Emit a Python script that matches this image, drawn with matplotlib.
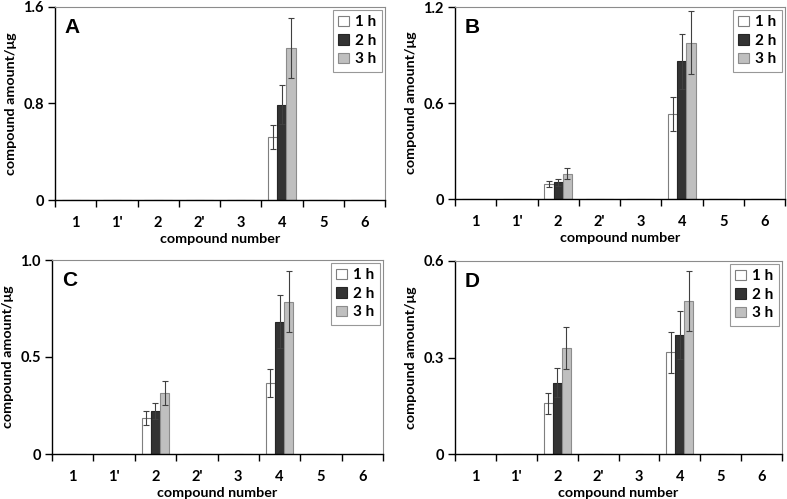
import matplotlib.pyplot as plt
import numpy as np

plt.rcParams['font.family'] = ['Lato', 'DejaVu Sans']
plt.rcParams['font.weight'] = 'bold'

# categories on the x axis
compounds = ["1", "1'", "2", "2'", "3", "4", "5", "6"]
hours = ["1 h", "2 h", "3 h"]

# panel A
a_1h = [0, 0, 0, 0, 0, 0.52, 0, 0]
a_2h = [0, 0, 0, 0, 0, 0.79, 0, 0]
a_3h = [0, 0, 0, 0, 0, 1.26, 0, 0]
a_err_1h = [0, 0, 0, 0, 0, 0.10, 0, 0]
a_err_2h = [0, 0, 0, 0, 0, 0.16, 0, 0]
a_err_3h = [0, 0, 0, 0, 0, 0.25, 0, 0]

# panel B
b_1h = [0, 0, 0.094, 0, 0, 0.53, 0, 0]
b_2h = [0, 0, 0.106, 0, 0, 0.86, 0, 0]
b_3h = [0, 0, 0.158, 0, 0, 0.977, 0, 0]
b_err_1h = [0, 0, 0.018, 0, 0, 0.105, 0, 0]
b_err_2h = [0, 0, 0.022, 0, 0, 0.17, 0, 0]
b_err_3h = [0, 0, 0.033, 0, 0, 0.195, 0, 0]

# panel C
c_1h = [0, 0, 0.187, 0, 0, 0.365, 0, 0]
c_2h = [0, 0, 0.22, 0, 0, 0.681, 0, 0]
c_3h = [0, 0, 0.314, 0, 0, 0.784, 0, 0]
c_err_1h = [0, 0, 0.037, 0, 0, 0.072, 0, 0]
c_err_2h = [0, 0, 0.041, 0, 0, 0.137, 0, 0]
c_err_3h = [0, 0, 0.062, 0, 0, 0.157, 0, 0]

# panel D
d_1h = [0, 0, 0.158, 0, 0, 0.316, 0, 0]
d_2h = [0, 0, 0.222, 0, 0, 0.37, 0, 0]
d_3h = [0, 0, 0.329, 0, 0, 0.475, 0, 0]
d_err_1h = [0, 0, 0.033, 0, 0, 0.063, 0, 0]
d_err_2h = [0, 0, 0.045, 0, 0, 0.074, 0, 0]
d_err_3h = [0, 0, 0.066, 0, 0, 0.094, 0, 0]

panels = [
    ("A", 1.6, [a_1h, a_2h, a_3h], [a_err_1h, a_err_2h, a_err_3h]),
    ("B", 1.2, [b_1h, b_2h, b_3h], [b_err_1h, b_err_2h, b_err_3h]),
    ("C", 1.0, [c_1h, c_2h, c_3h], [c_err_1h, c_err_2h, c_err_3h]),
    ("D", 0.6, [d_1h, d_2h, d_3h], [d_err_1h, d_err_2h, d_err_3h]),
]

# axes boxes in pixels: left, right, top, bottom
boxes = [(55, 385, 7, 200), (455, 785, 7, 199), (52, 383, 260, 454), (455, 782, 261, 454)]
W, H = 787, 499

colors = ["white", "#333333", "#bfbfbf"]
edges = ["#7f7f7f", "#262626", "#8c8c8c"]
tick_fmt = {1.6: ["0", "0.8", "1.6"], 1.2: ["0", "0.6", "1.2"],
            1.0: ["0", "0.5", "1.0"], 0.6: ["0", "0.3", "0.6"]}

fig = plt.figure(figsize=(W / 100, H / 100), dpi=100)

for (letter, ymax, series, errs), (l, r, t, b) in zip(panels, boxes):
    ax = fig.add_axes([l / W, 1 - b / H, (r - l) / W, (b - t) / H])
    x = np.arange(len(compounds))
    w = 0.222
    for i in range(3):
        vals = np.array(series[i])
        e = np.array(errs[i])
        pos = x + (i - 1) * w
        ax.bar(pos, vals, w, color=colors[i], edgecolor=edges[i], linewidth=0.8,
               label=hours[i], zorder=2)
        m = vals > 0
        ax.errorbar(pos[m], vals[m], yerr=e[m], fmt="none", ecolor="#404040",
                    elinewidth=0.8, capsize=2, capthick=0.8, zorder=3)

    ax.set_xlim(-0.5, len(compounds) - 0.5)
    ax.set_ylim(0, ymax)
    ax.set_yticks([0, ymax / 2, ymax])
    ax.set_yticklabels(tick_fmt[ymax])
    ax.set_xticks(np.arange(len(compounds) + 1) - 0.5)
    ax.set_xticklabels([])
    ax.set_xticks(x, minor=True)
    ax.set_xticklabels(compounds, minor=True)
    ax.tick_params(axis="x", which="major", direction="out", length=5, width=1, color="black")
    ax.tick_params(axis="x", which="minor", length=0, pad=11.5, labelsize=10.5)
    ax.tick_params(axis="y", direction="out", length=5, width=1, labelsize=10.5, pad=3)

    for s in ["top", "right"]:
        ax.spines[s].set_color("#8c8c8c")
        ax.spines[s].set_linewidth(0.8)
    for s in ["left", "bottom"]:
        ax.spines[s].set_color("black")
        ax.spines[s].set_linewidth(1)

    aw, ah = r - l, b - t
    ax.set_xlabel("compound number", fontsize=10.3, fontweight="bold", va="center")
    ax.xaxis.set_label_coords(0.5, -39 / ah)
    ax.set_ylabel("compound amount/\u03bcg", fontsize=10.3, fontweight="bold", va="center")
    ax.yaxis.set_label_coords(-44 / aw, 0.5)
    ax.text(0.03, 0.945, letter, transform=ax.transAxes, fontsize=15,
            fontweight="bold", family=["Liberation Sans", "DejaVu Sans"], va="top")

    leg = ax.legend(loc="upper right", bbox_to_anchor=(0.99, 0.985), fontsize=11,
                    frameon=True, fancybox=False, handlelength=0.7, handleheight=0.7,
                    handletextpad=0.4, borderpad=0.35, labelspacing=0.3,
                    borderaxespad=0)
    leg.get_frame().set_edgecolor("#7f7f7f")
    leg.get_frame().set_linewidth(0.8)

fig.savefig("out.png", dpi=100)
